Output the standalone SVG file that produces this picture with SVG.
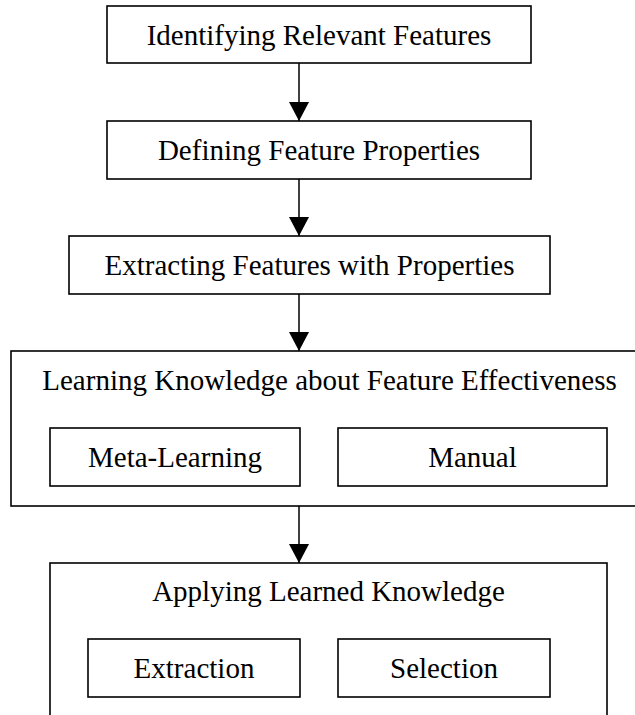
<svg xmlns="http://www.w3.org/2000/svg" width="635" height="715" viewBox="0 0 635 715">
  <style>
    .box { fill: #ffffff; stroke: #000000; stroke-width: 1.6; }
    .lbl { font-family: "Liberation Serif", "Times New Roman", serif; font-size: 29px; fill: #000000; text-anchor: middle; }
    .edge { stroke: #000000; stroke-width: 1.5; fill: none; marker-end: url(#arrow); }
  </style>
  <defs>
    <marker id="arrow" viewBox="0 0 19 20" refX="19" refY="10" markerWidth="19" markerHeight="20" markerUnits="userSpaceOnUse" orient="auto">
      <path d="M0,0 L19,10 L0,20 Z" fill="#000000"/>
    </marker>
  </defs>
  <rect width="635" height="715" fill="#ffffff"/>

  <g id="identify">
    <rect class="box" x="107" y="6" width="424" height="57"/>
    <text class="lbl" x="319" y="45">Identifying Relevant Features</text>
  </g>

  <g id="define">
    <rect class="box" x="107" y="121" width="424" height="58"/>
    <text class="lbl" x="319" y="160">Defining Feature Properties</text>
  </g>

  <g id="extract">
    <rect class="box" x="69" y="236" width="481" height="58"/>
    <text class="lbl" x="309.5" y="275">Extracting Features with Properties</text>
  </g>

  <g id="learn">
    <rect class="box" x="11" y="351" width="637" height="155"/>
    <text class="lbl" x="329.5" y="390">Learning Knowledge about Feature Effectiveness</text>
    <g id="meta-learning">
      <rect class="box" x="50" y="428" width="250" height="58"/>
      <text class="lbl" x="175" y="467">Meta-Learning</text>
    </g>
    <g id="manual">
      <rect class="box" x="338" y="428" width="269" height="58"/>
      <text class="lbl" x="472.5" y="467">Manual</text>
    </g>
  </g>

  <g id="apply">
    <rect class="box" x="50" y="563" width="557" height="200"/>
    <text class="lbl" x="328.5" y="601">Applying Learned Knowledge</text>
    <g id="extraction">
      <rect class="box" x="88" y="639" width="212" height="58"/>
      <text class="lbl" x="194" y="678">Extraction</text>
    </g>
    <g id="selection">
      <rect class="box" x="338" y="639" width="212" height="58"/>
      <text class="lbl" x="444" y="678">Selection</text>
    </g>
  </g>

  <g id="connectors">
    <line class="edge" x1="299" y1="63" x2="299" y2="121"/>
    <line class="edge" x1="299" y1="179" x2="299" y2="236"/>
    <line class="edge" x1="299" y1="294" x2="299" y2="351"/>
    <line class="edge" x1="299" y1="506" x2="299" y2="563"/>
  </g>
</svg>
